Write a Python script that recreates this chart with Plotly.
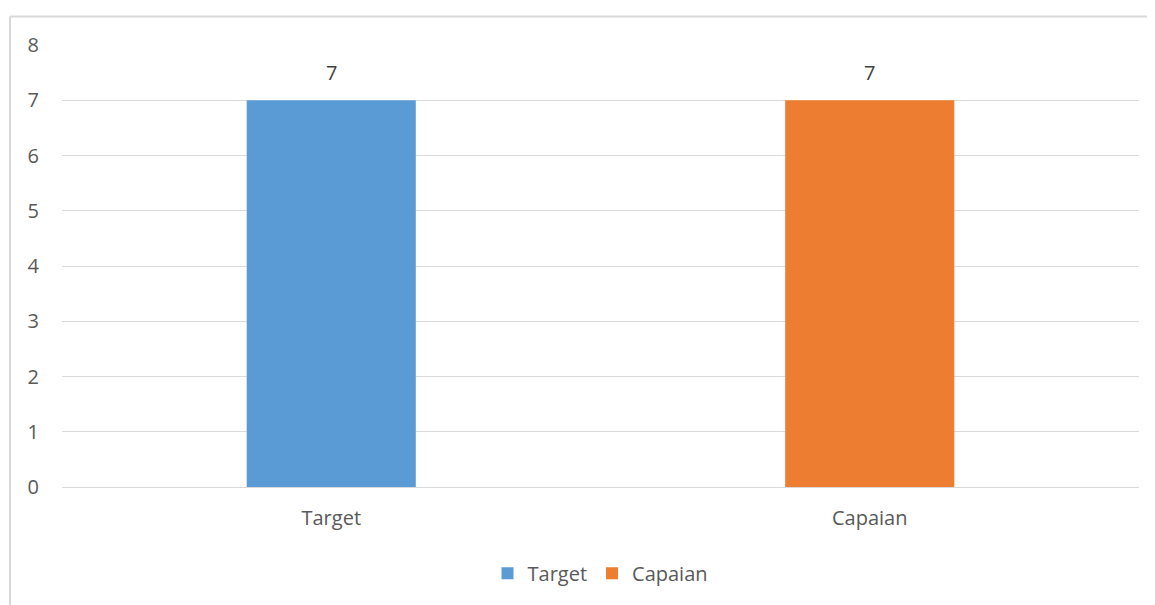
import plotly.graph_objects as go

categories = ["Target", "Capaian"]
values = [7, 7]
colors = ["#5B9BD5", "#ED7D31"]

# page has an 8px body margin, so the figure is drawn 8px smaller
W, H = 1147, 597
L, R, T, B = 54, 16, 37, 109
pw, ph = W - L - R, H - T - B

fig = go.Figure()
for cat, val, col in zip(categories, values, colors):
    fig.add_trace(go.Bar(
        x=[cat], y=[val], name=cat, marker_color=col, marker_line_width=0,
        width=0.314, offsetgroup="a",
    ))
    fig.add_annotation(x=cat, y=val, text=str(val), showarrow=False, yanchor="bottom",
                       yshift=12, font=dict(size=20, color="#404040"))

# chart border (left and top visible)
bx = (2 - L) / pw
by = 1 + (T - 8) / ph
fig.add_shape(type="line", xref="paper", yref="paper", x0=bx, x1=bx, y0=by, y1=-0.5,
              line=dict(color="#D9D9D9", width=2))
fig.add_shape(type="line", xref="paper", yref="paper", x0=bx, x1=1.1, y0=by, y1=by,
              line=dict(color="#D9D9D9", width=2))

fig.update_layout(
    width=W, height=H,
    margin=dict(l=L, r=R, t=T, b=B),
    paper_bgcolor="#ffffff",
    plot_bgcolor="#ffffff",
    font=dict(family="Open Sans", color="#595959", size=20),
    showlegend=True,
    legend=dict(orientation="h", x=0.5, xanchor="center", y=(488 - 576) / ph, yanchor="middle",
                font=dict(size=20, color="#595959"), itemwidth=30, tracegroupgap=0),
    bargap=0.686,
)
fig.update_xaxes(showgrid=False, showline=False, ticks="", ticklabelstandoff=17,
                 tickfont=dict(size=20))
fig.update_yaxes(range=[0, 8], dtick=1, showgrid=True, gridcolor="#D9D9D9", gridwidth=1.3,
                 zeroline=True, zerolinecolor="#D9D9D9", zerolinewidth=1.3, ticks="",
                 ticklabelstandoff=22, tickfont=dict(size=20))
fig.write_html("out.html")
